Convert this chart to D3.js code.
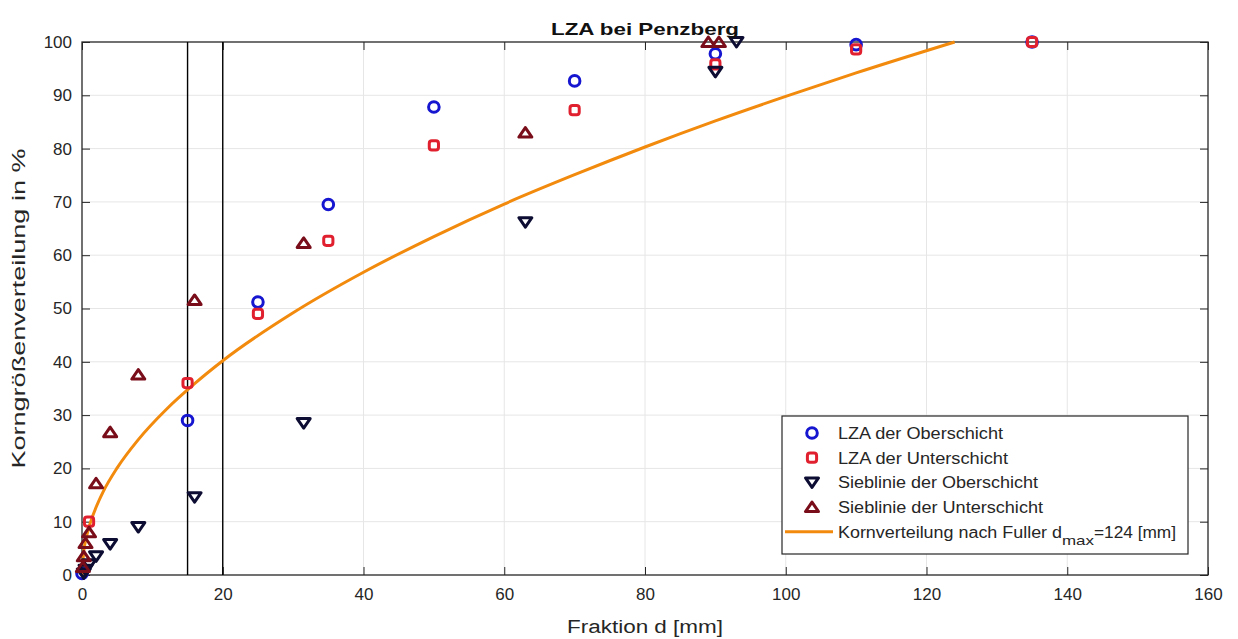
<!DOCTYPE html>
<html>
<head>
<meta charset="utf-8">
<title>LZA bei Penzberg</title>
<script src="https://cdn.jsdelivr.net/npm/d3@7"></script>
<style>
  body { margin: 0; background: #fff; }
  svg { font-family: "Liberation Sans", Arial, sans-serif; }
</style>
</head>
<body>
<div id="graph"></div>
<script>
// LZA der Oberschicht
const lzaOberD = [0, 15, 25, 35, 50, 70, 90, 110, 135];
const lzaOberP = [0.3, 29, 51.2, 69.5, 87.8, 92.7, 97.8, 99.5, 100];
// LZA der Unterschicht
const lzaUnterD = [1, 15, 25, 35, 50, 70, 90, 110, 135];
const lzaUnterP = [10, 36, 49, 62.7, 80.6, 87.2, 95.8, 98.6, 100];
// Sieblinie der Oberschicht
const siebOberD = [0.25, 0.5, 1, 2, 4, 8, 16, 31.5, 63, 90, 93];
const siebOberP = [0.3, 1, 2, 3.5, 5.8, 9, 14.6, 28.5, 66.2, 94.4, 100];
// Sieblinie der Unterschicht
const siebUnterD = [0.125, 0.25, 0.5, 1, 2, 4, 8, 16, 31.5, 63, 89, 90.5];
const siebUnterP = [1.5, 3.5, 6, 8, 17.2, 26.8, 37.6, 51.6, 62.3, 83, 100, 100];
// Kornverteilung nach Fuller, dmax = 124 mm
const fullerD = [0, 0.25, 0.5, 1, 2, 3, 5, 8, 12, 16, 20, 30, 40, 50, 60, 70, 80, 90, 100, 110, 124];
const fullerP = [0, 4.5, 6.4, 9, 12.7, 15.6, 20.1, 25.4, 31.1, 35.9, 40.2, 49.2, 56.8, 63.5, 69.6, 75.1, 80.3, 85.2, 89.8, 94.2, 100];

const xTicks = [0, 20, 40, 60, 80, 100, 120, 140, 160];
const yTicks = [0, 10, 20, 30, 40, 50, 60, 70, 80, 90, 100];
const refLines = [15, 20];

const width = 1238, height = 639;
const margin = {left: 82, right: 30, top: 42, bottom: 64};
const textColor = '#262626';

const svg = d3.select('#graph').append('svg')
  .attr('width', width).attr('height', height);

const x = d3.scaleLinear().domain([0, 160]).range([margin.left, width - margin.right]);
const y = d3.scaleLinear().domain([0, 100]).range([height - margin.bottom, margin.top]);

const zip = (a, b) => a.map((v, i) => [v, b[i]]);

// the source picture is stretched sideways, so text is stretched to fit
const stretch = (sel, len) => sel.attr('textLength', len).attr('lengthAdjust', 'spacingAndGlyphs');

// grid
svg.append('g')
  .selectAll('line')
  .data(xTicks.slice(1, -1))
  .join('line')
    .attr('x1', d => x(d)).attr('x2', d => x(d))
    .attr('y1', y(0)).attr('y2', y(100))
    .attr('stroke', '#e6e6e6').attr('stroke-width', 1);
svg.append('g')
  .selectAll('line')
  .data(yTicks.slice(1, -1))
  .join('line')
    .attr('x1', x(0)).attr('x2', x(160))
    .attr('y1', d => y(d)).attr('y2', d => y(d))
    .attr('stroke', '#e6e6e6').attr('stroke-width', 1);

// axes with inward ticks
const axisStyle = g => {
  g.selectAll('.domain').remove();
  g.selectAll('text').attr('font-size', 17).attr('fill', textColor)
    .attr('font-family', '"Liberation Sans", Arial, sans-serif');
  g.selectAll('.tick line').attr('stroke', textColor);
};
svg.append('g').attr('transform', `translate(0,${y(0)})`)
  .call(d3.axisBottom(x).tickValues(xTicks).tickSizeInner(-8).tickSizeOuter(0).tickPadding(13))
  .call(axisStyle);
svg.append('g').attr('transform', `translate(0,${y(100)})`)
  .call(d3.axisTop(x).tickValues(xTicks).tickSizeInner(-8).tickSizeOuter(0).tickFormat(''))
  .call(axisStyle);
svg.append('g').attr('transform', `translate(${x(0)},0)`)
  .call(d3.axisLeft(y).tickValues(yTicks).tickSizeInner(-8).tickSizeOuter(0).tickPadding(10))
  .call(axisStyle);
svg.append('g').attr('transform', `translate(${x(160)},0)`)
  .call(d3.axisRight(y).tickValues(yTicks).tickSizeInner(-8).tickSizeOuter(0).tickFormat(''))
  .call(axisStyle);

svg.append('rect')
  .attr('x', x(0)).attr('y', y(100))
  .attr('width', x(160) - x(0)).attr('height', y(0) - y(100))
  .attr('fill', 'none').attr('stroke', textColor).attr('stroke-width', 1.3);

// vertical reference lines
svg.append('g').selectAll('line')
  .data(refLines)
  .join('line')
    .attr('x1', d => x(d)).attr('x2', d => x(d))
    .attr('y1', y(0)).attr('y2', y(100))
    .attr('stroke', '#000').attr('stroke-width', 1.4);

// Fuller curve
const fullerColor = '#f28a0d';
svg.append('path')
  .datum(zip(fullerD, fullerP))
  .attr('fill', 'none')
  .attr('stroke', fullerColor)
  .attr('stroke-width', 3)
  .attr('d', d3.line().x(d => x(d[0])).y(d => y(d[1])).curve(d3.curveMonotoneX));

// markers
const series = [
  {name: 'LZA der Oberschicht', d: lzaOberD, p: lzaOberP, color: '#1616d0', shape: 'circle', len: 165},
  {name: 'LZA der Unterschicht', d: lzaUnterD, p: lzaUnterP, color: '#e0202e', shape: 'square', len: 170},
  {name: 'Sieblinie der Oberschicht', d: siebOberD, p: siebOberP, color: '#0d0d33', shape: 'down', len: 200},
  {name: 'Sieblinie der Unterschicht', d: siebUnterD, p: siebUnterP, color: '#7a0d1a', shape: 'up', len: 205}
];

const drawMarker = (g, shape, color) => {
  if (shape === 'circle') {
    g.append('circle').attr('r', 5.3);
  } else if (shape === 'square') {
    g.append('rect').attr('x', -4.6).attr('y', -4.6).attr('width', 9.2).attr('height', 9.2).attr('rx', 2.6);
  } else if (shape === 'down') {
    g.append('path').attr('d', 'M-6.5,-4.5L6.5,-4.5L0,5Z');
  } else {
    g.append('path').attr('d', 'M-6.5,4.5L6.5,4.5L0,-5Z');
  }
  g.selectAll('*').attr('fill', 'none').attr('stroke', color).attr('stroke-width', 3)
    .attr('stroke-linejoin', 'round');
};

series.forEach(s => {
  svg.append('g').selectAll('g')
    .data(zip(s.d, s.p))
    .join('g')
      .attr('transform', d => `translate(${x(d[0])},${y(d[1])})`)
      .each(function () { drawMarker(d3.select(this), s.shape, s.color); });
});

// title and labels
svg.append('text')
  .attr('x', (x(0) + x(160)) / 2).attr('y', 35)
  .attr('text-anchor', 'middle').attr('font-size', 17).attr('font-weight', 'bold').attr('fill', '#111')
  .text('LZA bei Penzberg')
  .call(stretch, 188);
svg.append('text')
  .attr('x', (x(0) + x(160)) / 2).attr('y', 633)
  .attr('text-anchor', 'middle').attr('font-size', 18).attr('fill', textColor)
  .text('Fraktion d [mm]')
  .call(stretch, 156);
svg.append('text')
  .attr('transform', `translate(25,${(y(0) + y(100)) / 2}) rotate(-90)`)
  .attr('text-anchor', 'middle').attr('font-size', 18).attr('fill', textColor)
  .text('Korngrößenverteilung in %')
  .call(stretch, 320);

// legend
const legend = svg.append('g').attr('transform', 'translate(782,416)');
legend.append('rect')
  .attr('width', 406).attr('height', 138)
  .attr('fill', '#fff').attr('stroke', textColor).attr('stroke-width', 1.2);
series.forEach((s, i) => {
  const row = legend.append('g').attr('transform', `translate(30,${17 + i * 24.7})`);
  drawMarker(row.append('g'), s.shape, s.color);
  row.append('text').attr('x', 26).attr('y', 6).attr('font-size', 16).attr('fill', textColor)
    .text(s.name).call(stretch, s.len);
});
const fRow = legend.append('g').attr('transform', `translate(0,${17 + 4 * 24.7})`);
fRow.append('line').attr('x1', 3).attr('x2', 51).attr('stroke', fullerColor).attr('stroke-width', 3);
const ft = fRow.append('text').attr('x', 56).attr('y', 6).attr('font-size', 16).attr('fill', textColor);
ft.append('tspan').text('Kornverteilung nach Fuller d').call(stretch, 224);
ft.append('tspan').attr('dy', 7).attr('font-size', 13).text('max').call(stretch, 32);
ft.append('tspan').attr('dy', -7).text('=124 [mm]').call(stretch, 82);
</script>
</body>
</html>
